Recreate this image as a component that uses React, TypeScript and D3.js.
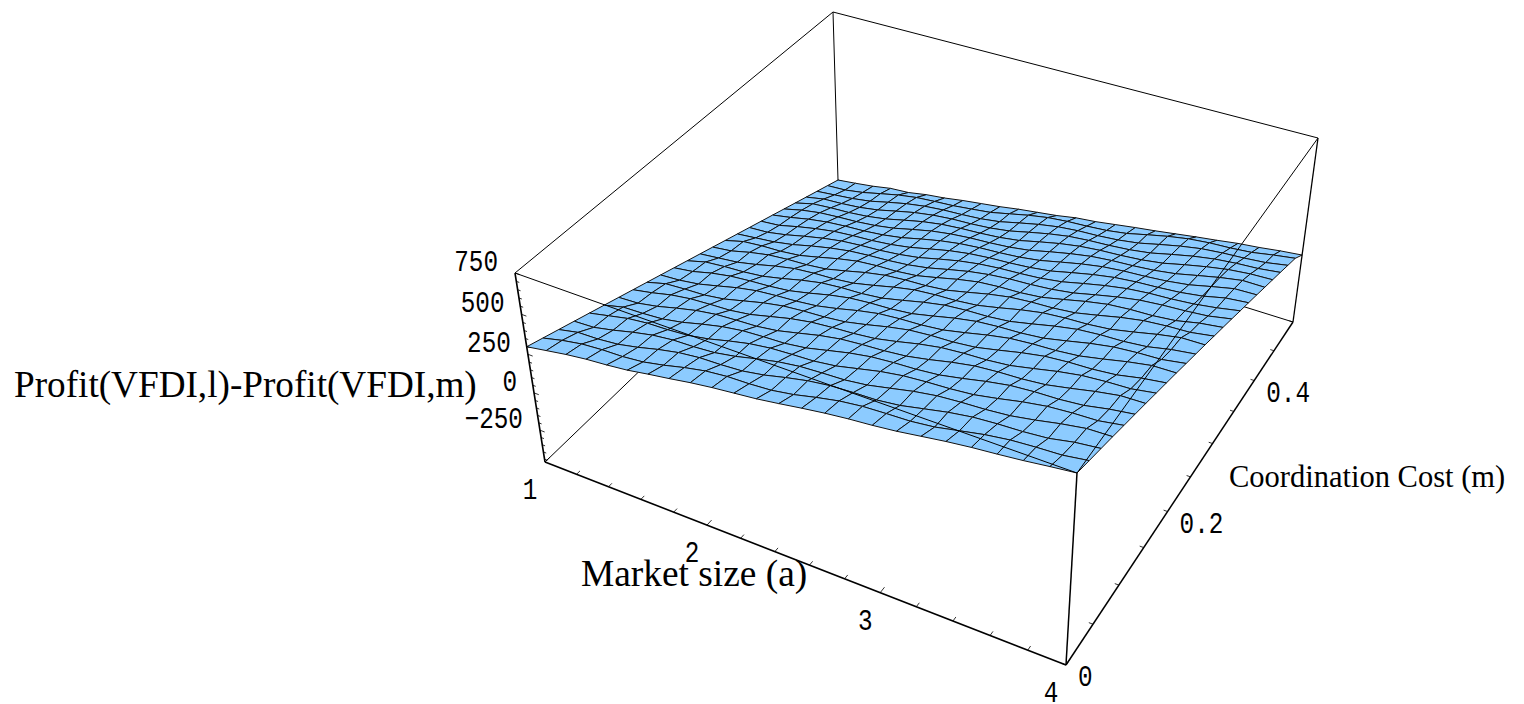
import React from "react";
import * as d3 from "d3";

const W = 1524;
const H = 704;

// Data
const marketSizeRange = [1, 4];
const coordCostRange = [0, 0.5];
const profitRange = [-470, 750];
const marketTicks = [1, 1.2, 1.4, 1.6, 1.8, 2, 2.2, 2.4, 2.6, 2.8, 3, 3.2, 3.4, 3.6, 3.8, 4];
const marketLabels = [1, 2, 3, 4];
const costTicks = [0, 0.05, 0.1, 0.15, 0.2, 0.25, 0.3, 0.35, 0.4, 0.45, 0.5];
const costLabels = ["0", "0.2", "0.4"];
const profitTicks = [-450, -400, -350, -300, -250, -200, -150, -100, -50, 0, 50, 100, 150, 200, 250, 300, 350, 400, 450, 500, 550, 600, 650, 700, 750];
const profitLabels = [-250, 0, 250, 500, 750];

// Profit difference: one row per coordination-cost grid line, one column per market-size grid line
const profitGrid: number[][] = [
  [274,297,320,338,350,366,390,412,436,456,472,488,510,534,556,574,588,606,630,654,674,690,708,730,750],
  [243,275,299,310,314,328,356,390,418,433,437,447,471,505,535,554,562,568,586,618,650,673,685,693,718],
  [212,240,244,257,285,319,347,363,367,376,400,434,464,484,492,497,515,547,579,603,615,622,636,668,687],
  [181,187,215,248,276,292,296,306,330,363,393,413,421,427,445,476,508,532,544,552,566,593,625,651,656],
  [150,178,206,221,225,235,259,293,323,342,350,356,374,406,438,461,473,481,495,523,555,580,592,598,624],
  [119,151,155,164,188,222,252,272,280,285,303,335,367,391,403,410,424,452,484,510,522,527,541,571,593],
  [88,94,118,151,181,201,209,215,233,264,296,320,332,340,354,381,413,439,451,457,471,500,532,558,562],
  [57,81,111,130,138,144,162,194,226,249,261,269,283,311,343,368,380,386,400,430,462,487,499,505,530],
  [26,60,68,73,91,123,155,179,191,198,212,240,272,298,310,315,329,359,391,417,429,434,448,478,499],
  [-5,3,21,52,84,108,120,128,142,169,201,227,239,245,259,288,320,346,358,364,378,407,439,465,468],
  [-36,-18,14,37,49,57,71,99,131,156,168,174,188,218,250,275,287,293,307,337,369,394,406,412,436],
  [-67,-33,-21,-14,0,28,60,86,98,103,117,147,179,205,217,222,236,266,298,324,336,341,355,385,405],
  [-98,-84,-70,-43,-11,15,27,33,47,76,108,134,146,152,166,195,227,253,265,271,285,314,346,372,374],
  [-129,-113,-81,-56,-44,-38,-24,6,38,63,75,81,95,125,157,182,194,200,214,244,276,301,313,319,342],
  [-160,-126,-114,-109,-95,-65,-33,-7,5,10,24,54,86,112,124,129,143,173,205,231,243,248,262,292,311],
  [-191,-177,-163,-140,-108,-80,-58,-46,-38,-25,-3,29,59,81,95,102,114,134,166,196,220,233,241,253,280],
  [-222,-214,-190,-159,-131,-109,-97,-89,-75,-54,-22,8,30,44,52,63,83,115,145,169,183,190,202,222,248],
  [-253,-241,-209,-182,-160,-148,-140,-126,-104,-73,-43,-21,-7,1,13,32,64,94,118,132,140,151,171,203,217],
  [-284,-260,-232,-211,-199,-191,-177,-155,-123,-94,-72,-58,-50,-38,-18,13,43,67,81,89,101,120,152,182,186],
  [-315,-283,-261,-250,-242,-228,-206,-174,-144,-123,-109,-101,-89,-69,-37,-8,16,30,38,50,70,101,131,155,154],
  [-346,-312,-300,-293,-279,-257,-225,-195,-173,-160,-152,-140,-120,-88,-58,-35,-21,-13,-1,19,51,80,104,118,123],
  [-377,-351,-343,-330,-308,-276,-246,-224,-210,-203,-191,-171,-139,-109,-85,-72,-64,-52,-32,0,30,53,67,75,92],
  [-408,-394,-380,-359,-327,-297,-275,-261,-253,-242,-222,-190,-160,-136,-122,-115,-103,-83,-51,-21,3,16,24,36,60],
  [-439,-431,-409,-378,-348,-326,-314,-304,-288,-271,-241,-211,-187,-173,-165,-154,-134,-102,-72,-48,-34,-27,-15,9,29],
  [-470,-454,-436,-412,-402,-378,-362,-340,-322,-304,-282,-264,-246,-222,-208,-188,-168,-150,-130,-110,-92,-72,-58,-40,-26],
];

// Layout: screen corners of the plotting box, in order (aMin,mMin) (aMax,mMin) (aMax,mMax) (aMin,mMax)
type P = [number, number];
const floorCorners: P[] = [[545, 462], [1066, 665], [1293, 322], [838, 180]];
const ceilingCorners: P[] = [[515, 273], [1077, 473], [1318, 138], [833, 12]];

function quadMap(q: P[]) {
  const [[x0, y0], [x1, y1], [x2, y2], [x3, y3]] = q;
  const dx1 = x1 - x2, dx2 = x3 - x2, sx = x0 - x1 + x2 - x3;
  const dy1 = y1 - y2, dy2 = y3 - y2, sy = y0 - y1 + y2 - y3;
  const det = dx1 * dy2 - dx2 * dy1;
  const g = (sx * dy2 - dx2 * sy) / det;
  const h = (dx1 * sy - sx * dy1) / det;
  const a = x1 - x0 + g * x1, b = x3 - x0 + h * x3, c = x0;
  const d = y1 - y0 + g * y1, e = y3 - y0 + h * y3, f = y0;
  return (u: number, v: number): P => {
    const den = g * u + h * v + 1;
    return [(a * u + b * v + c) / den, (d * u + e * v + f) / den];
  };
}

const floorMap = quadMap(floorCorners);
const ceilingMap = quadMap(ceilingCorners);
const uScale = d3.scaleLinear().domain(marketSizeRange).range([0, 1]);
const vScale = d3.scaleLinear().domain(coordCostRange).range([0, 1]);
const wScale = d3.scaleLinear().domain(profitRange).range([0, 1]);

function projectW(a: number, m: number, w: number): P {
  const u = uScale(a), v = vScale(m);
  const [bx, by] = floorMap(u, v);
  const [tx, ty] = ceilingMap(u, v);
  return [bx + (tx - bx) * w, by + (ty - by) * w];
}
function project(a: number, m: number, z: number): P {
  return projectW(a, m, wScale(z));
}
// foreshortening of the vertical axis scale
const VERTICAL_PERSPECTIVE = 0.92;
function projectAxisZ(a: number, m: number, z: number): P {
  const t = 1 - wScale(z);
  const tp = t / (t + (1 - t) * VERTICAL_PERSPECTIVE);
  return projectW(a, m, 1 - tp);
}

const aGrid = d3.scaleLinear().domain([0, profitGrid[0].length - 1]).range(marketSizeRange);
const mGrid = d3.scaleLinear().domain([0, profitGrid.length - 1]).range(coordCostRange);

const [aMin, aMax] = marketSizeRange;
const [mMin, mMax] = coordCostRange;
const [zMin, zMax] = profitRange;
const lineGen = d3.line<P>();

function Edge({ from, to, w }: { from: P; to: P; w: number }) {
  return <path d={lineGen([from, to]) as string} fill="none" stroke="#000" strokeWidth={w} />;
}

const SERIF = "'Liberation Serif', serif";
const MONO = "'Liberation Mono', monospace";
const CHAR_W = 14.6;

export default function App() {
  const cells: React.ReactNode[] = [];
  for (let j = profitGrid.length - 2; j >= 0; j--) {
    for (let i = 0; i < profitGrid[j].length - 1; i++) {
      const pts: P[] = [
        project(aGrid(i), mGrid(j), profitGrid[j][i]),
        project(aGrid(i + 1), mGrid(j), profitGrid[j][i + 1]),
        project(aGrid(i + 1), mGrid(j + 1), profitGrid[j + 1][i + 1]),
        project(aGrid(i), mGrid(j + 1), profitGrid[j + 1][i]),
      ];
      cells.push(
        <path
          key={`${i}-${j}`}
          d={(lineGen(pts) as string) + "Z"}
          fill="#8ccbff"
          stroke="#111"
          strokeWidth={1}
          strokeLinejoin="round"
        />
      );
    }
  }

  const isMajorA = (t: number) => Number.isInteger(t);
  const isMajorZ = (t: number) => t % 250 === 0;

  return (
    <svg
      width={W}
      height={H}
      viewBox={`0 0 ${W} ${H}`}
      style={{ position: "absolute", left: 0, top: 0, background: "#fff" }}
    >
      {/* edges behind the surface */}
      <g>
        <Edge from={project(aMin, mMax, zMin)} to={project(aMin, mMax, zMax)} w={1} />
        <Edge from={project(aMin, mMin, zMin)} to={project(aMin, mMax, zMin)} w={1} />
        <Edge from={project(aMin, mMax, zMin)} to={project(aMax, mMax, zMin)} w={1} />
      </g>
      <g>{cells}</g>
      {/* edges in front of the surface */}
      <g>
        <Edge from={project(aMin, mMin, zMax)} to={project(aMin, mMax, zMax)} w={1} />
        <Edge from={project(aMin, mMax, zMax)} to={project(aMax, mMax, zMax)} w={1} />
        <Edge from={project(aMax, mMax, zMax)} to={project(aMax, mMax, zMin)} w={1.3} />
        <Edge from={project(aMin, mMin, zMax)} to={project(aMax, mMin, zMax)} w={1} />
        <Edge from={project(aMax, mMin, zMax)} to={project(aMax, mMax, zMax)} w={1} />
        <Edge from={project(aMin, mMin, zMin)} to={project(aMin, mMin, zMax)} w={1.6} />
        <Edge from={project(aMax, mMin, zMin)} to={project(aMax, mMin, zMax)} w={1.5} />
        <Edge from={project(aMin, mMin, zMin)} to={project(aMax, mMin, zMin)} w={1.6} />
        <Edge from={project(aMax, mMin, zMin)} to={project(aMax, mMax, zMin)} w={1.5} />
      </g>
      {/* ticks */}
      <g>
        {marketTicks.map((t) => (
          <Edge key={t} from={project(t, mMin, zMin)} to={project(t, mMin + (isMajorA(t) ? 0.007 : 0.005), zMin)} w={0.8} />
        ))}
        {costTicks.map((t) => (
          <Edge key={t} from={project(aMax, t, zMin)} to={project(aMax - 0.022, t, zMin)} w={0.8} />
        ))}
        {profitTicks.map((t) => (
          <Edge key={t} from={projectAxisZ(aMin, mMin, t)} to={projectAxisZ(aMin + (isMajorZ(t) ? 0.03 : 0.018), mMin, t)} w={0.8} />
        ))}
      </g>
      {/* tick labels */}
      <g fontFamily={MONO} fontSize={29} fill="#000">
        {profitLabels.map((t) => {
          const [x, y] = projectAxisZ(aMin, mMin, t);
          const s = t < 0 ? `\u2212${-t}` : `${t}`;
          return (
            <text key={t} x={x - 17} y={y - 2} textAnchor="end" textLength={s.length * CHAR_W} lengthAdjust="spacingAndGlyphs">
              {s}
            </text>
          );
        })}
        {marketLabels.map((t) => {
          const [x, y] = project(t, mMin, zMin);
          return (
            <text key={t} x={x - 15} y={y + 37} textAnchor="middle" textLength={CHAR_W} lengthAdjust="spacingAndGlyphs">
              {t}
            </text>
          );
        })}
        {costLabels.map((t) => {
          const [x, y] = project(aMax, +t, zMin);
          return (
            <text key={t} x={x + 12} y={y + 21} textAnchor="start" textLength={t.length * CHAR_W} lengthAdjust="spacingAndGlyphs">
              {t}
            </text>
          );
        })}
      </g>
      {/* axis titles */}
      <g fontFamily={SERIF} fill="#000">
        <text x={14} y={397} fontSize={37.2}>Profit(VFDI,l)-Profit(VFDI,m)</text>
        <text x={581} y={586} fontSize={37.4}>Market size (a)</text>
        <text x={1229} y={487} fontSize={30.5}>Coordination Cost (m)</text>
      </g>
    </svg>
  );
}
